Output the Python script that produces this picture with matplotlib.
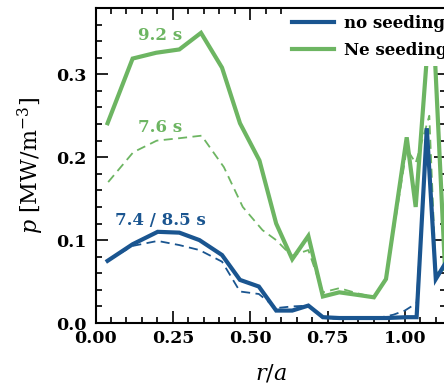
import matplotlib
matplotlib.use("Agg")
import matplotlib.pyplot as plt
from matplotlib.ticker import MultipleLocator
from matplotlib.transforms import Affine2D

plt.rcParams['font.family'] = ['DejaVu Serif']
plt.rcParams['mathtext.fontset'] = 'dejavuserif'

BLUE = "#1a5590"
GREEN = "#6db562"

# Ne seeding, 9.2 s (solid)
ne_solid_x = [0.039, 0.120, 0.196, 0.271, 0.341, 0.409, 0.467, 0.530, 0.584, 0.636, 0.688, 0.735,
              0.788, 0.845, 0.900, 0.939, 1.006, 1.035, 1.087, 1.133, 1.16]
ne_solid_y = [0.241, 0.319, 0.326, 0.330, 0.350, 0.308, 0.241, 0.196, 0.120, 0.077, 0.105, 0.032,
              0.037, 0.034, 0.031, 0.053, 0.224, 0.140, 0.400, 0.040, 0.03]
# Ne seeding, 7.6 s (dashed)
ne_dash_x = [0.041, 0.122, 0.198, 0.273, 0.343, 0.415, 0.476, 0.540, 0.584, 0.634, 0.688, 0.735,
             0.788, 0.845, 0.900, 0.939, 1.006, 1.035, 1.079, 1.100, 1.16]
ne_dash_y = [0.170, 0.206, 0.220, 0.223, 0.226, 0.188, 0.140, 0.112, 0.100, 0.081, 0.088, 0.037,
             0.042, 0.036, 0.031, 0.053, 0.210, 0.193, 0.250, 0.060, 0.07]
# no seeding, 8.5 s (solid)
no_solid_x = [0.039, 0.120, 0.201, 0.271, 0.336, 0.409, 0.467, 0.528, 0.584, 0.636, 0.688, 0.735,
              0.788, 0.845, 0.900, 0.939, 1.006, 1.038, 1.071, 1.100, 1.16]
no_solid_y = [0.075, 0.095, 0.110, 0.109, 0.100, 0.082, 0.052, 0.044, 0.015, 0.015, 0.021, 0.007,
              0.006, 0.006, 0.006, 0.006, 0.007, 0.007, 0.235, 0.053, 0.09]
# no seeding, 7.4 s (dashed)
no_dash_x = [0.039, 0.120, 0.201, 0.271, 0.336, 0.409, 0.467, 0.528, 0.584, 0.636, 0.688, 0.735,
             0.788, 0.845, 0.900, 0.963, 1.000, 1.038, 1.071, 1.100, 1.16]
no_dash_y = [0.075, 0.093, 0.099, 0.094, 0.088, 0.074, 0.038, 0.035, 0.018, 0.020, 0.021, 0.006,
             0.005, 0.005, 0.005, 0.010, 0.015, 0.024, 0.230, 0.055, 0.08]

W, H = 444, 385
fig = plt.figure(figsize=(W/100, H/100), dpi=100)
ax = fig.add_axes([95.5/W, 1-323/H, (446-95.5)/W, (323-8)/H])

l2, = ax.plot(ne_solid_x, ne_solid_y, color=GREEN, lw=3.0, solid_joinstyle='miter', label='Ne seeding', zorder=2.0)
ax.plot(ne_dash_x, ne_dash_y, color=GREEN, lw=1.3, ls=(0, (5, 3)), zorder=2.05)
l1, = ax.plot(no_solid_x, no_solid_y, color=BLUE, lw=3.0, solid_joinstyle='miter', label='no seeding', zorder=2.1)
ax.plot(no_dash_x, no_dash_y, color=BLUE, lw=1.3, ls=(0, (5, 3)), zorder=2.15)

ax.set_xlim(0, 1.133)
ax.set_ylim(0, 0.38)
ax.xaxis.set_minor_locator(MultipleLocator(0.05))
ax.yaxis.set_minor_locator(MultipleLocator(0.02))
ax.set_xticks([0, 0.25, 0.5, 0.75, 1.0])
ax.set_xticklabels(['0.00', '0.25', '0.50', '0.75', '1.00'])
ax.set_yticks([0, 0.1, 0.2, 0.3])
ax.set_yticklabels(['0.0', '0.1', '0.2', '0.3'])
ax.tick_params(which='both', direction='in', top=True, right=True, width=1.2, labelsize=12.5)
ax.tick_params(axis='x', which='both', pad=5)
ax.tick_params(axis='y', which='both', pad=6.5)
ax.tick_params(which='major', length=8.5)
ax.tick_params(which='minor', length=4.5)
for lab in ax.get_xticklabels() + ax.get_yticklabels():
    lab.set_fontweight('bold')
for s in ax.spines.values():
    s.set_linewidth(1.5)

ax.set_xlabel(r'$r/a$', fontsize=16, labelpad=11)
ax.set_ylabel(r'$p$ [MW/m$^{-3}$]', fontsize=16, labelpad=7)

txt_kw = dict(fontsize=12, fontweight='bold', ha='center', va='center')
ax.text(0.21, 0.347, '9.2 s', color=GREEN, **txt_kw)
ax.text(0.21, 0.236, '7.6 s', color=GREEN, **txt_kw)
ax.text(0.21, 0.124, '7.4 / 8.5 s', color=BLUE, **txt_kw)

pix = Affine2D().scale(1/W, 1/H) + fig.transFigure
leg = ax.legend(handles=[l1, l2], loc='upper left', bbox_to_anchor=(285, H-8), bbox_transform=pix,
                frameon=True, prop=dict(size=12, weight='bold'), handlelength=2.5, handletextpad=0.6,
                borderaxespad=0, borderpad=0.42, labelspacing=0.62, fancybox=False)
leg.get_frame().set_edgecolor('white')
leg.get_frame().set_facecolor('white')
leg.get_frame().set_alpha(1)
leg.get_frame().set_linewidth(0)
leg.set_zorder(2.4)

fig.savefig('out.png', dpi=100)
